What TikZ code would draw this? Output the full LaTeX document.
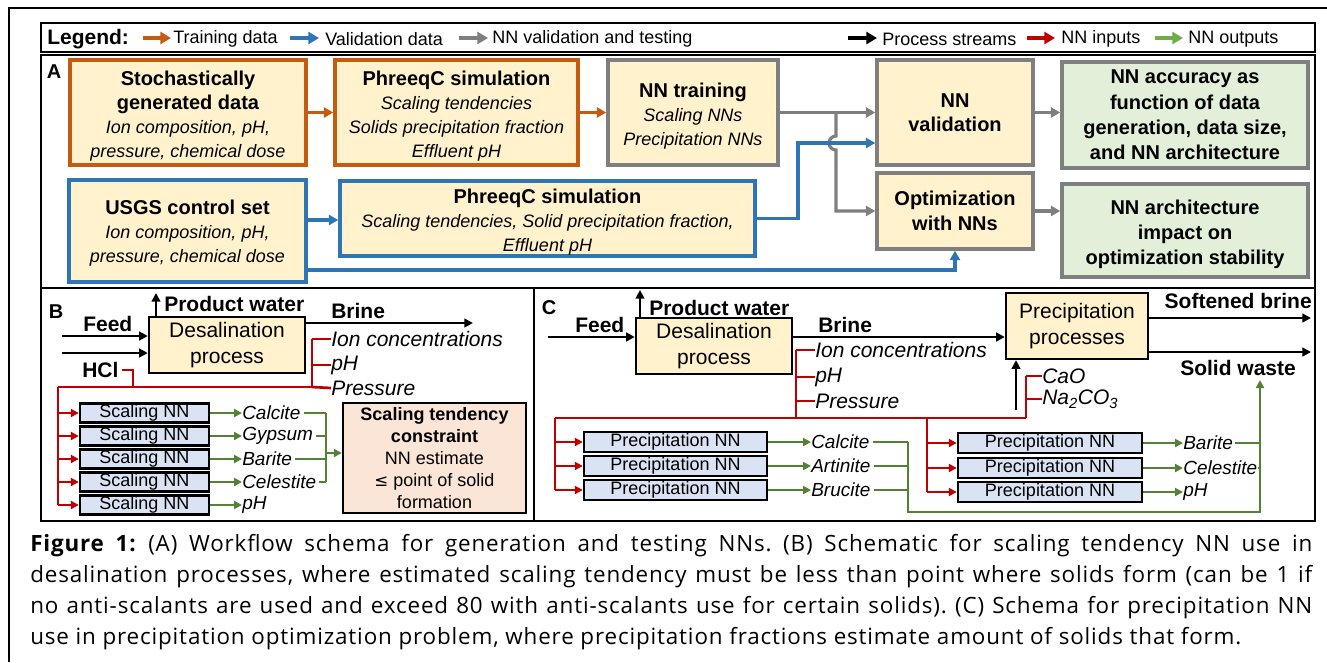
\documentclass[tikz,border=0pt]{standalone}
\usepackage{fontspec}
\setmainfont{Liberation Sans}
\newfontfamily\capfont[LetterSpace=3.8]{Open Sans}
\usetikzlibrary{arrows.meta}
\definecolor{cOr}{HTML}{C55A11}
\definecolor{cBl}{HTML}{2E75B6}
\definecolor{cGy}{HTML}{7F7F7F}
\definecolor{cRd}{HTML}{C00000}
\definecolor{cGr}{HTML}{548235}
\definecolor{cGrL}{HTML}{70AD47}
\definecolor{cYel}{HTML}{FFF2CC}
\definecolor{cGn}{HTML}{E2F0D9}
\definecolor{cBlu}{HTML}{DAE3F3}
\definecolor{cPch}{HTML}{FBE5D6}
\newcommand\ttl[1]{{\fontsize{15}{18}\selectfont\bfseries #1}}
\newcommand\ita[1]{{\itshape #1}}
\newcommand\upst{\rule{0pt}{16.5pt}}
\tikzset{
  sz/.style 2 args={minimum width=#1*0.75pt, minimum height=#2*0.75pt},
  box/.style={draw, fill=cYel, line width=2.6pt, inner sep=0pt, align=center, font=\fontsize{13.5}{18}\selectfont},
  orbox/.style={box, draw=cOr},
  blbox/.style={box, draw=cBl},
  grbox/.style={box, draw=cGy},
  gnbox/.style={box, draw=cGy, fill=cGn},
  frame/.style={draw=black, line width=1.6pt},
  heavy/.style={line width=2.4pt, -{Triangle[length=7pt,width=7.5pt]}},
  leg/.style={line width=2.8pt, -{Triangle[length=8pt,width=9pt]}},
  lgt/.style={anchor=west, inner sep=0pt, font=\fontsize{13.5}{16}\selectfont},
  plab/.style={inner sep=0pt, font=\fontsize{15}{18}\selectfont\bfseries},
  proc/.style={draw=black, fill=cYel, line width=1.8pt, inner sep=0pt, align=center, font=\fontsize{15.75}{19}\selectfont},
  nnbox/.style={draw=black, fill=cBlu, line width=1.8pt, inner sep=0pt, font=\fontsize{13.5}{16}\selectfont},
  strm/.style={anchor=west, inner sep=0pt, font=\fontsize{15.75}{18}\selectfont\bfseries},
  inlab/.style={anchor=west, inner sep=0pt, font=\fontsize{15.75}{18}\selectfont\itshape},
  outlab/.style={anchor=west, inner sep=0pt, font=\fontsize{14.25}{16}\selectfont\itshape},
  blk/.style={draw=black, line width=2.2pt, -{Triangle[length=6.5pt,width=6.5pt]}},
  rd/.style={draw=cRd, line width=2pt},
  rda/.style={rd, -{Triangle[length=6pt,width=6pt]}},
  gn/.style={draw=cGr, line width=1.9pt},
  gna/.style={gn, -{Triangle[length=6pt,width=6pt]}},
}
\begin{document}
\begin{tikzpicture}[x=0.75pt,y=-0.75pt]
\useasboundingbox (0,0) rectangle (1327,662);
% outer frame (partly cropped)
\draw[line width=2pt] (1327,8) -- (9,8) -- (9,662);
% legend and panel frames
\draw[frame] (41,23) rectangle (1315,52);
\draw[frame] (41,55) rectangle (1315,288);
\draw[frame] (41,288) rectangle (534,521);
\draw[frame] (534,288) rectangle (1315,521);

% ---------- legend ----------
\node[anchor=west, inner sep=0pt, font=\fontsize{15.75}{18}\selectfont\bfseries] (lg) at (47,39) {Legend:};
\coordinate (la1) at (143,38); \coordinate (lb1) at (171,38);
\coordinate (la2) at (290,38); \coordinate (lb2) at (319,38);
\coordinate (la3) at (459,38); \coordinate (lb3) at (488,38);
\coordinate (la4) at (848,38); \coordinate (lb4) at (877,38);
\coordinate (la5) at (1027,38); \coordinate (lb5) at (1055,38);
\coordinate (la6) at (1155,38); \coordinate (lb6) at (1183,38);
\draw[leg, draw=cOr] (la1) -- (lb1);
\draw[leg, draw=cBl] (la2) -- (lb2);
\draw[leg, draw=cGy] (la3) -- (lb3);
\draw[leg, draw=black] (la4) -- (lb4);
\draw[leg, draw=cRd] (la5) -- (lb5);
\draw[leg, draw=cGrL] (la6) -- (lb6);
\node[lgt] (lt1) at (173,39) {Training data};
\node[lgt] (lt2) at (325,39) {Validation data};
\node[lgt] (lt3) at (492,39) {NN validation and testing};
\node[lgt] (lt4) at (882,39) {Process streams};
\node[lgt] (lt5) at (1061,39) {NN inputs};
\node[lgt] (lt6) at (1188,39) {NN outputs};

% ---------- panel A ----------
\node[plab] (pA) at (54,72) {A};
\node[orbox, sz={236}{105}] (sgd) at (188,112.5) {\upst\ttl{Stochastically}\\\ttl{generated data}\\\ita{Ion composition, pH,}\\\ita{pressure, chemical dose}};
\node[orbox, sz={243}{105}] (ph1) at (456.5,112.5) {\upst\ttl{PhreeqC simulation}\\\ita{Scaling tendencies}\\\ita{Solids precipitation fraction}\\\ita{Effluent pH}};
\node[grbox, sz={170}{105}] (nnt) at (693,112.5) {\upst\ttl{NN training}\\\ita{Scaling NNs}\\\ita{Precipitation NNs}};
\node[grbox, sz={156}{105}] (nnv) at (955,112.5) {\ttl{NN}\\\ttl{validation}};
\node[gnbox, sz={246}{106}, font=\fontsize{15}{19}\selectfont] (acc) at (1185,115) {\ttl{NN accuracy as}\\\ttl{function of data}\\\ttl{generation, data size,}\\\ttl{and NN architecture}};
\node[blbox, sz={237}{102}] (usgs) at (187.5,231) {\rule{0pt}{14.5pt}\ttl{USGS control set}\\\ita{Ion composition, pH,}\\\ita{pressure, chemical dose}};
\node[blbox, sz={415}{75}] (ph2) at (547.5,218.5) {\upst\ttl{PhreeqC simulation}\\\ita{Scaling tendencies, Solid precipitation fraction,}\\\ita{Effluent pH}};
\node[grbox, sz={156}{76}, font=\fontsize{15}{19}\selectfont] (opt) at (955,211) {\ttl{Optimization}\\\ttl{with NNs}};
\node[gnbox, sz={246}{93}, font=\fontsize{15}{19}\selectfont] (arch) at (1185,230.5) {\upst\ttl{NN architecture}\\\ttl{impact on}\\\ttl{optimization stability}};

\draw[heavy, draw=cOr] (sgd.east) -- (ph1.west);
\draw[heavy, draw=cOr] (ph1.east) -- (nnt.west);
\draw[heavy, draw=cGy] (nnt.east) -- (nnv.west);
\coordinate (jn) at (836,112.5);
\coordinate (bv) at (798,143);
\draw[heavy, draw=cGy] (jn) -- (836,136) arc[start angle=90, end angle=270, radius=5.25pt] |- (opt.west);
\draw[heavy, draw=cBl] (ph2.east) -| (bv) -- (bv -| nnv.west);
\draw[heavy, draw=cGy] (nnv.east) -- (nnv.east -| acc.west);
\draw[heavy, draw=cGy] (opt.east) -- (opt.east -| arch.west);
\coordinate (u1) at (306,220);
\coordinate (u2) at (306,270);
\draw[heavy, draw=cBl] (u1) -- (u1 -| ph2.west);
\draw[heavy, draw=cBl] (u2) -| (opt.south);

% ---------- panel B ----------
\node[plab] (pB) at (56,312) {B};
\node[proc, sz={156}{56}] (desB) at (227,345) {Desalination\\process};
\coordinate (pwB) at (156,293);
\draw[blk] (desB.north west -| pwB) -- (pwB);
\node[strm] (pwtB) at (164,304) {Product water};
\coordinate (brB) at (473,323);
\draw[blk] (brB -| desB.east) -- (brB);
\node[strm] (brtB) at (331,311) {Brine};
\node[strm] (fdB) at (83,324) {Feed};
\coordinate (f1B) at (62,336);
\coordinate (f2B) at (62,353);
\draw[blk] (f1B) -- (f1B -| desB.west);
\draw[blk] (f2B) -- (f2B -| desB.west);
\node[strm] (hcl) at (82,370) {HCl};
% red inputs
\coordinate (rbL) at (58,387);
\coordinate (rbR) at (312,387);
\coordinate (rtop) at (312,339);
\draw[rd] (hcl.east) ++(3,0) -| (133,387);
\draw[rd] (rbL) -- (rbR);
\draw[rd] (rtop) -- (rbR);
\node[inlab] (icB) at (331,339) {Ion concentrations};
\node[inlab] (phinB) at (331,365) {pH};
\node[inlab] (prB) at (331,388) {Pressure};
\draw[rd] (rtop) -- (icB.west);
\draw[rd] (312,365) -- (phinB.west);
\draw[rd] (rbR) -- (prB.west);
% scaling NNs
\foreach \i/\yy/\lab in {1/413/Calcite, 2/436/Gypsum, 3/459/Barite, 4/482/Celestite, 5/505/pH}{
  \node[nnbox, sz={129}{19}] (sn\i) at (144.5,\yy) {Scaling NN};
  \draw[rda] (58,\yy) -- (sn\i.west);
  \node[outlab] (so\i) at (242,\yy) {\lab};
  \draw[gna] (sn\i.east) -- (so\i.west);
}
\draw[rd] (rbL) -- (58,505);
\coordinate (gxB) at (326,413);
\coordinate (gxB2) at (326,482);
\draw[gn] (so1.east) ++(3,0) -- (gxB);
\draw[gn] (so2.east) ++(3,0) -- (so2.east -| gxB);
\draw[gn] (so3.east) ++(3,0) -- (so3.east -| gxB);
\draw[gn] (so4.east) ++(3,0) -- (gxB2);
\draw[gn] (gxB) -- (gxB2);
\node[draw=black, fill=cPch, line width=1.8pt, sz={183}{110}, inner sep=0pt, align=center, font=\fontsize{13.5}{16.5}\selectfont] (stc) at (434.5,458) {\textbf{Scaling tendency}\\\textbf{constraint}\\NN estimate\\{\fontspec{DejaVu Sans}\fontsize{12.5}{16.5}\selectfont≤} point of solid\\formation};
\draw[gna] (326,453) -- (stc.west |- 0,453);

% ---------- panel C ----------
\node[plab] (pC) at (549,308) {C};
\node[proc, sz={156}{56}] (desC) at (714,346) {Desalination\\process};
\coordinate (pwC) at (640,290);
\draw[blk] (desC.north west -| pwC) -- (pwC);
\node[strm] (pwtC) at (649,308) {Product water};
\node[strm] (fdC) at (575,325) {Feed};
\coordinate (fC) at (548,337);
\draw[blk] (fC) -- (fC -| desC.west);
\node[proc, sz={142}{66}] (ppC) at (1077,326) {Precipitation\\processes};
\draw[blk] (fC -| desC.east) -- (fC -| ppC.west);
\node[strm] (brtC) at (818,325) {Brine};
\coordinate (sbC) at (1311,318);
\coordinate (swC) at (1311,352);
\draw[blk] (sbC -| ppC.east) -- (sbC);
\draw[blk] (swC -| ppC.east) -- (swC);
\node[strm, anchor=east] (sbt) at (1312,301) {Softened brine};
\node[strm] (swt) at (1180,368) {Solid waste};
\coordinate (chC) at (1016,410);
\draw[blk] (chC) -- (chC |- ppC.south);
% red inputs
\node[inlab] (icC) at (815,350) {Ion concentrations};
\node[inlab] (phinC) at (815,377) {pH};
\node[inlab] (prC) at (815,401) {Pressure};
\draw[rd] (796,350) -- (icC.west);
\draw[rd] (796,377) -- (phinC.west);
\draw[rd] (796,401) -- (prC.west);
\draw[rd] (796,350) -- (796,418);
\node[inlab] (cao) at (1042,376) {CaO};
\node[inlab] (naco) at (1042,399) {Na\textsubscript{2}CO\textsubscript{3}};
\draw[rd] (1026,376) -- (cao.west);
\draw[rd] (1026,399) -- (naco.west);
\draw[rd] (1026,376) -- (1026,418);
\draw[rd] (555,418) -- (1026,418);
\draw[rd] (555,418) -- (555,490);
\draw[rd] (927,418) -- (927,492);
\foreach \i/\yy/\lab in {1/442/Calcite, 2/466/Artinite, 3/490/Brucite}{
  \node[nnbox, sz={183}{20}] (pl\i) at (675.5,\yy) {Precipitation NN};
  \draw[rda] (555,\yy) -- (pl\i.west);
  \node[outlab] (pol\i) at (811,\yy) {\lab};
  \draw[gna] (pl\i.east) -- (pol\i.west);
}
\foreach \i/\yy/\lab in {1/443/Barite, 2/468/Celestite, 3/492/pH}{
  \node[nnbox, sz={184}{20}] (pr\i) at (1050,\yy) {Precipitation NN};
  \draw[rda] (927,\yy) -- (pr\i.west);
  \node[outlab] (por\i) at (1183,\yy) {\lab};
  \draw[gna] (pr\i.east) -- (por\i.west);
}
\coordinate (gv1) at (908,442);
\coordinate (gb1) at (908,512);
\coordinate (gb2) at (1260,512);
\coordinate (gtop) at (1260,380);
\draw[gn] (pol1.east) ++(3,0) -- (gv1);
\draw[gn] (pol2.east) ++(3,0) -- (pol2.east -| gv1);
\draw[gn] (pol3.east) ++(3,0) -- (pol3.east -| gv1);
\draw[gn] (por1.east) ++(2,0) -- (por1.east -| gb2);
\draw[gn] (por2.east) ++(1,0) -- (por2.east -| gb2);
\draw[gna] (gv1) -- (gb1) -- (gb2) -- (gtop);

% ---------- caption ----------
\node[anchor=west, inner sep=0pt, align=left, font=\capfont\fontsize{16.8}{23.25}\selectfont\frenchspacing] (cap) at (30,592.5) {%
\makebox[961.5pt][s]{\textbf{Figure 1:} (A) Workflow schema for generation and testing NNs. (B) Schematic for scaling tendency NN use in}\\
\makebox[961.5pt][s]{desalination processes, where estimated scaling tendency must be less than point where solids form (can be 1 if}\\
\makebox[961.5pt][s]{no anti-scalants are used and exceed 80 with anti-scalants use for certain solids). (C) Schema for precipitation NN}\\
use in precipitation optimization problem, where precipitation fractions estimate amount of solids that form.};
\end{tikzpicture}
\end{document}
